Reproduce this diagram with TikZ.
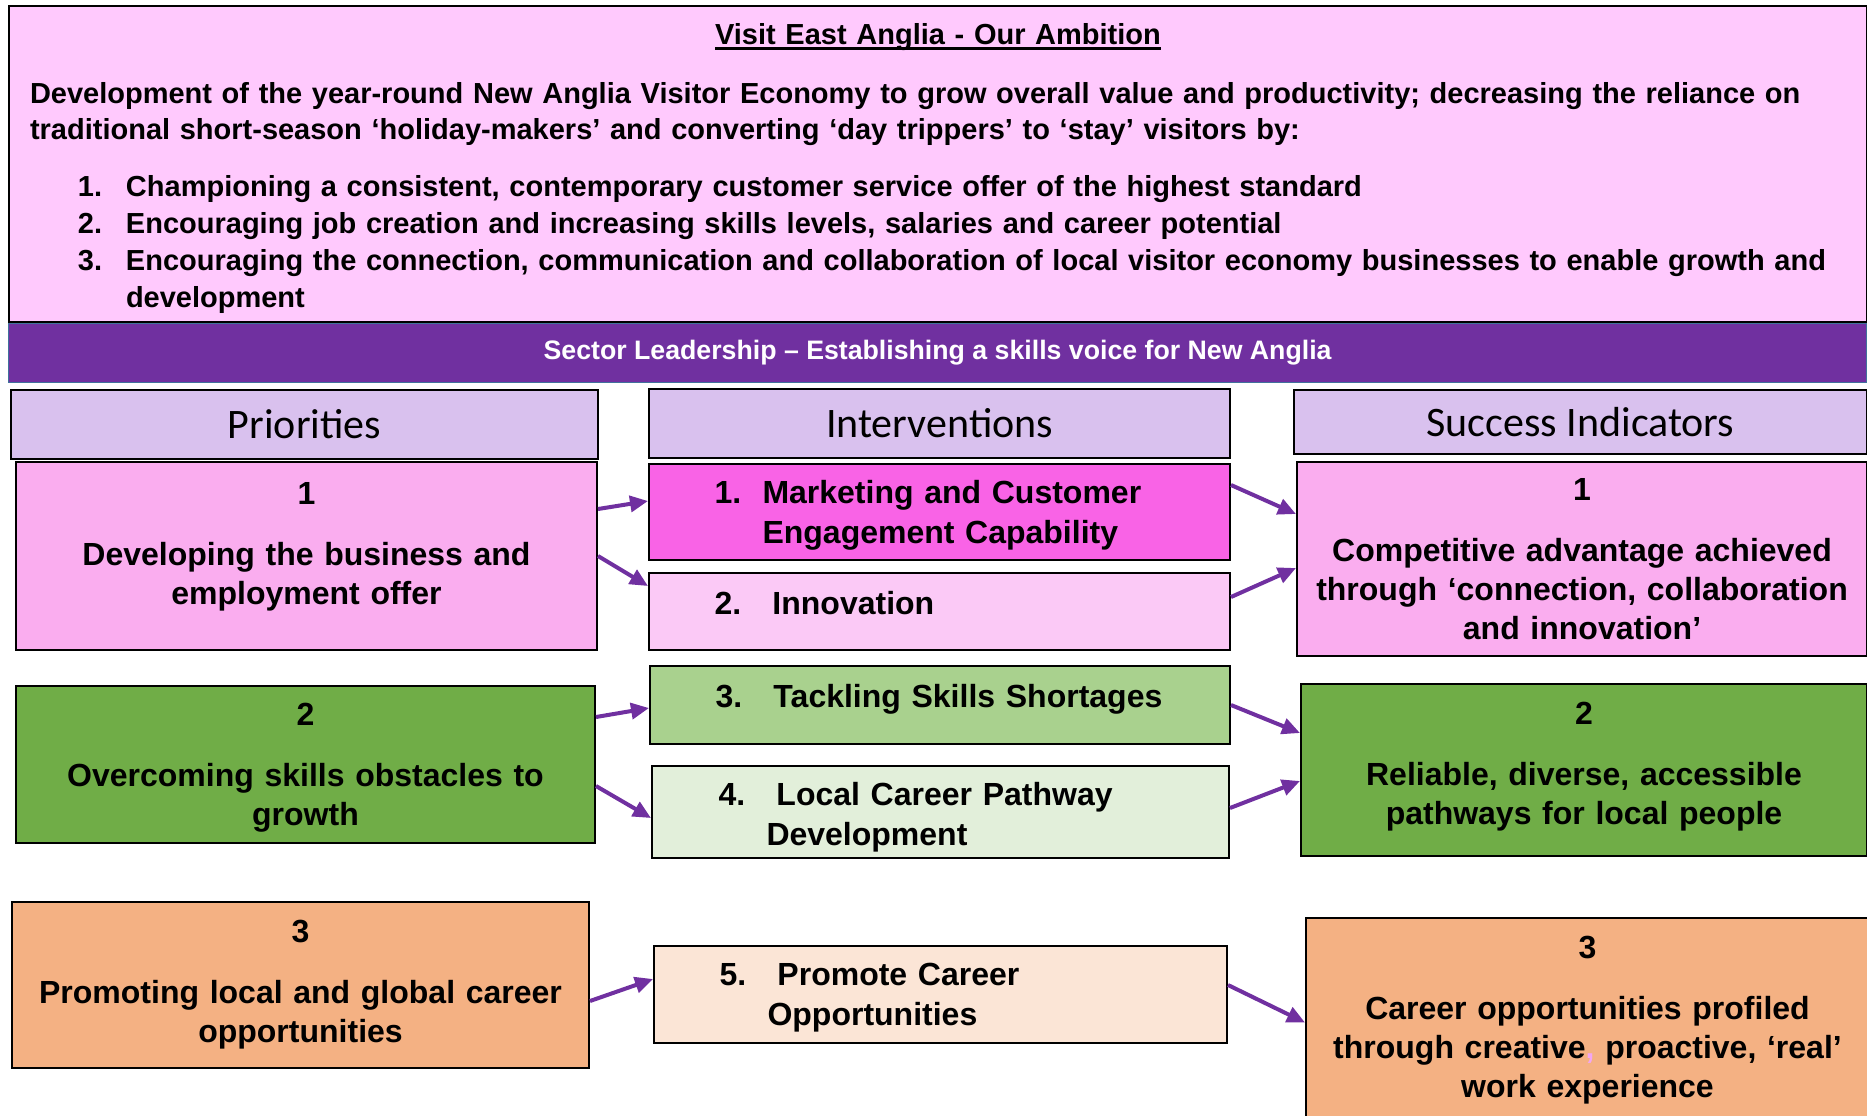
\documentclass[tikz,border=0pt]{standalone}
\usepackage{fontspec}
\setmainfont{Liberation Sans}
\newfontfamily\headfont{Carlito}
\usepackage{tikz}
\usetikzlibrary{arrows.meta, positioning}

\definecolor{ambpink}{HTML}{FFC9FD}
\definecolor{barpurple}{HTML}{7030A0}
\definecolor{barline}{HTML}{41719C}
\definecolor{headlilac}{HTML}{D9C1EE}
\definecolor{prpink}{HTML}{FAADEF}
\definecolor{hotpink}{HTML}{F963E6}
\definecolor{palepink}{HTML}{FBC9F6}
\definecolor{prgreen}{HTML}{70AD47}
\definecolor{midgreen}{HTML}{A9D18E}
\definecolor{palegreen}{HTML}{E2EFDA}
\definecolor{prorange}{HTML}{F4B183}
\definecolor{palepeach}{HTML}{FBE5D6}
\definecolor{commapink}{HTML}{F2A6F2}

% number + gap in front of a numbered line
\newcommand{\stepnum}[2][29pt]{\makebox[#1][l]{#2}}
% heavy underline for the panel title
\newsavebox{\ulbox}
\newcommand{\heavyul}[1]{\sbox{\ulbox}{#1}\rlap{\rule[-2.9pt]{\wd\ulbox}{1.3pt}}\usebox{\ulbox}}

\begin{document}
\begin{tikzpicture}[x=0.5pt, y=-0.5pt,
    box/.style={draw=black, line width=1pt, anchor=north west, inner sep=0pt},
    head/.style={box, fill=headlilac, font=\headfont\fontsize{21}{25}\selectfont},
    prio/.style={box, align=center, text width=272pt, font=\bfseries\fontsize{16}{19.5}\selectfont},
    ivn/.style={box, align=left, text width=#1, font=\bfseries\fontsize{16}{20}\selectfont},
    arrow/.style={draw=barpurple, line width=2pt, ->, >={Triangle[length=9pt, width=8pt]}}
]
    \useasboundingbox (0,0) rectangle (1867,1115);

    % Ambition panel and leadership bar
    \node[box, fill=ambpink, minimum width=929pt, minimum height=158pt, text width=908pt, align=left,
          text depth=130.5pt, font=\bfseries\fontsize{14.5}{18}\selectfont] (amb) at (8,5)
        {\makebox[908pt]{\heavyul{Visit East Anglia - Our Ambition}}\\[11.5pt]
         Development of the year-round New Anglia Visitor Economy to grow overall value and productivity; decreasing the reliance on\\
         traditional short-season ‘holiday-makers’ and converting ‘day trippers’ to ‘stay’ visitors by:\\[10.5pt]
         \hspace*{24pt}\stepnum[24pt]{1.}Championing a consistent, contemporary customer service offer of the highest standard\\[0.6pt]
         \hspace*{24pt}\stepnum[24pt]{2.}Encouraging job creation and increasing skills levels, salaries and career potential\\[0.6pt]
         \hspace*{24pt}\stepnum[24pt]{3.}Encouraging the connection, communication and collaboration of local visitor economy businesses to enable growth and\\[0.6pt]
         \hspace*{48pt}development};
    \node[box, fill=barpurple, draw=barline, line width=0.6pt, text=white, minimum width=929pt, minimum height=29.5pt,
          font=\bfseries\fontsize{13.35}{15}\selectfont] (bar) at (8,323)
        {Sector Leadership – Establishing a skills voice for New Anglia};

    % Column headers
    \node[head, minimum width=293.5pt, minimum height=34.5pt] (prioh) at (10,389) {Priorities};
    \node[head, minimum width=290.5pt, minimum height=34.5pt] (ivnh) at (648,388) {Interventions};
    \node[head, minimum width=286.5pt, minimum height=32pt] (succh) at (1293,389) {Success Indicators};

    % Priorities
    \node[prio, fill=prpink, minimum width=290.5pt, minimum height=94pt, text depth=63pt] (p1) at (15,461)
        {1\\[11pt]Developing the business and\\employment offer};
    \node[prio, fill=prgreen, minimum width=289.5pt, minimum height=78.5pt, text depth=49.8pt] (p2) at (15,685)
        {2\\[11pt]Overcoming skills obstacles to\\growth};
    \node[prio, fill=prorange, minimum width=288.5pt, minimum height=83pt] (p3) at (11,901)
        {3\\[11pt]Promoting local and global career\\opportunities};

    % Interventions
    \node[ivn=225pt, fill=hotpink, minimum width=290.5pt, minimum height=48pt, text depth=19.8pt] (i1) at (648,463)
        {\stepnum[24pt]{1.}Marketing and Customer\\\hspace*{24pt}Engagement Capability};
    \node[ivn=225pt, fill=palepink, minimum width=290.5pt, minimum height=38.5pt, text depth=9pt] (i2) at (648,572)
        {\stepnum{2.}Innovation};
    \node[ivn=224.5pt, fill=midgreen, minimum width=290pt, minimum height=39pt, text depth=9pt] (i3) at (649,665)
        {\mbox{\stepnum{3.}Tackling Skills Shortages}};
    \node[ivn=222pt, fill=palegreen, minimum width=288.5pt, minimum height=46pt, text depth=18.6pt] (i4) at (651,765)
        {\stepnum{4.}Local Career Pathway\\\hspace*{24pt}Development};
    \node[ivn=221pt, fill=palepeach, minimum width=286.5pt, minimum height=48.5pt, text depth=19.8pt] (i5) at (653,945)
        {\stepnum{5.}Promote Career\\\hspace*{24pt}Opportunities};

    % Success indicators
    \node[prio, fill=prpink, minimum width=285pt, minimum height=97pt] (s1) at (1296,461)
        {1\\[11pt]Competitive advantage achieved\\through ‘connection, collaboration\\and innovation’};
    \node[prio, fill=prgreen, minimum width=283pt, minimum height=86pt, text depth=57pt] (s2) at (1300,683)
        {2\\[11pt]Reliable, diverse, accessible\\pathways for local people};
    \node[prio, fill=prorange, minimum width=281.5pt, minimum height=102.5pt] (s3) at (1305,917)
        {3\\[11pt]Career opportunities profiled\\through creative\textcolor{commapink}{,} proactive, ‘real’\\work experience};

    % Priorities -> interventions
    \draw[arrow] ([yshift=23.5pt]p1.east) -- ([yshift=5.5pt]i1.west);
    \draw[arrow] (p1.east) -- ([yshift=12.75pt]i2.west);
    \draw[arrow] ([yshift=23.75pt]p2.east) -- ([yshift=-1.5pt]i3.west);
    \draw[arrow] ([yshift=-10.75pt]p2.east) -- ([yshift=-3pt]i4.west);
    \draw[arrow] ([yshift=-8pt]p3.east) -- ([yshift=7.75pt]i5.west);

    % Interventions -> success indicators
    \draw[arrow] ([yshift=13.5pt]i1.east) -- ([yshift=22.5pt]s1.west);
    \draw[arrow] ([yshift=7.25pt]i2.east) -- ([yshift=-4.5pt]s1.west);
    \draw[arrow] (i3.east) -- ([yshift=18.5pt]s2.west);
    \draw[arrow] ([yshift=2pt]i4.east) -- ([yshift=-5.5pt]s2.west);
    \draw[arrow] ([yshift=4.75pt]i5.east) -- ([yshift=-1pt]s3.west);
\end{tikzpicture}
\end{document}
